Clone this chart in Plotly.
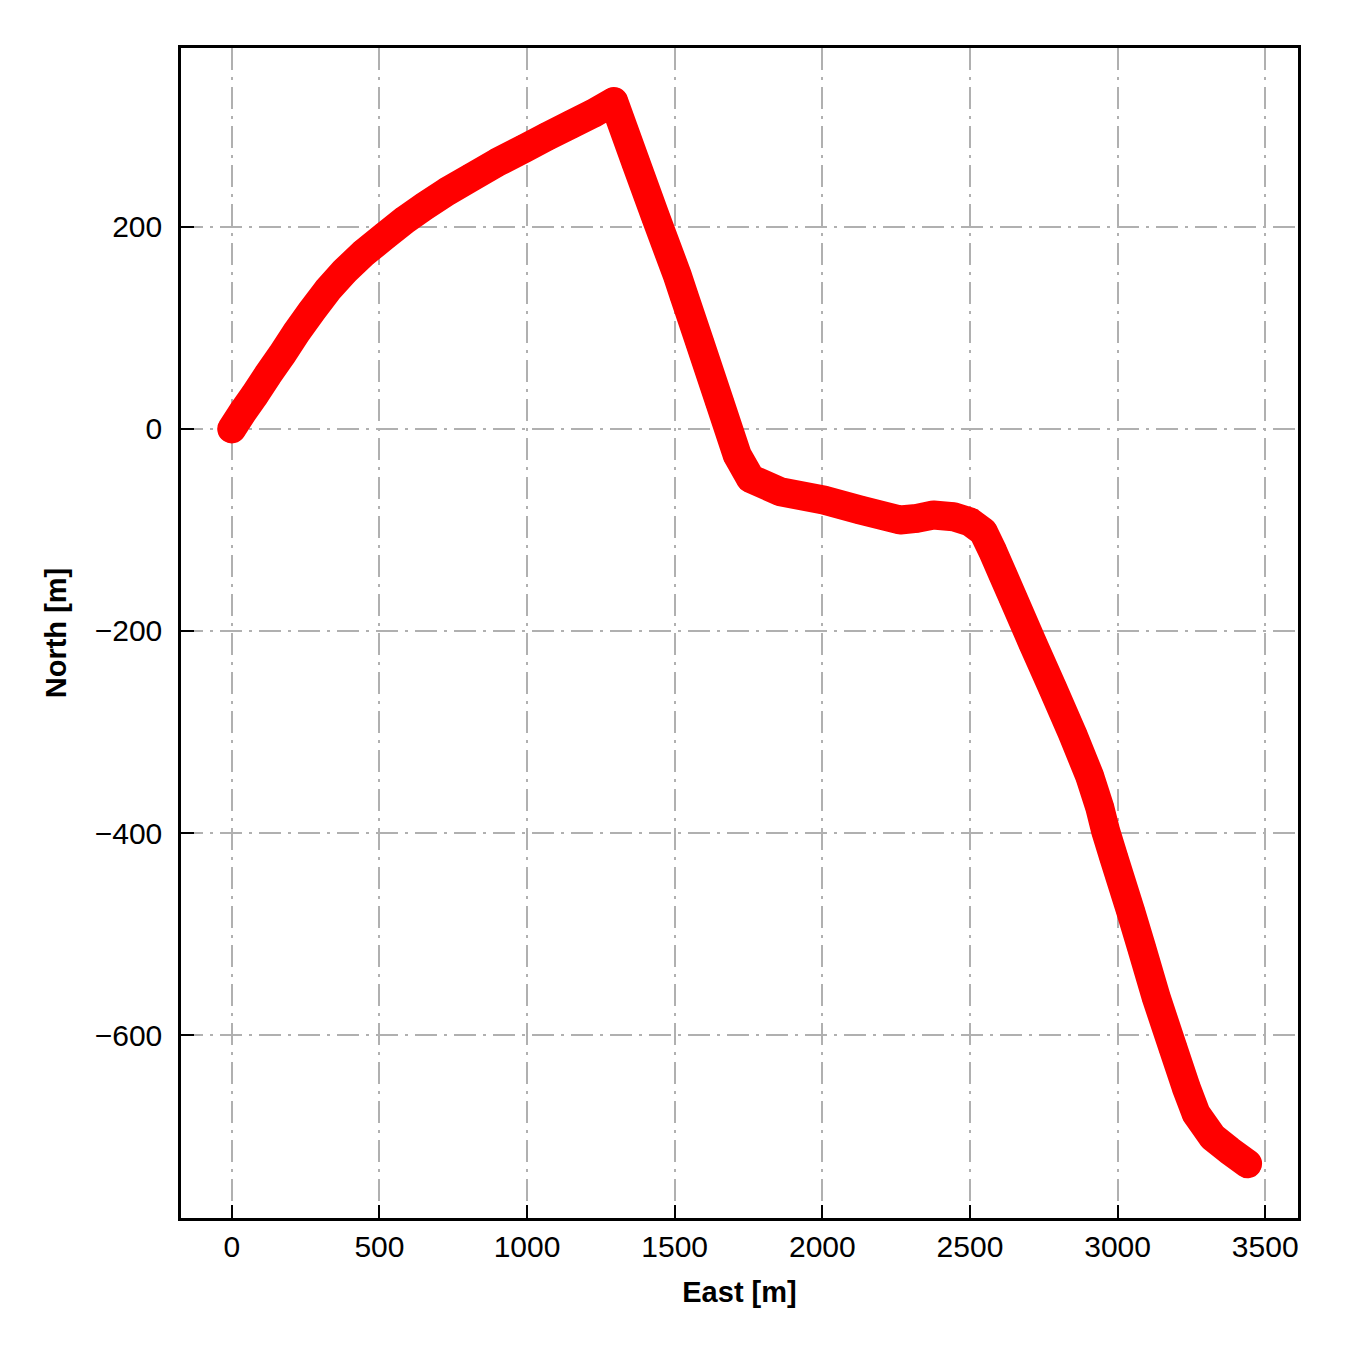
import plotly.graph_objects as go

east = [0, 37.2, 77.7, 121.6, 168.9, 219.6, 270.3, 324.3, 381.8, 445.9, 516.9,
        584.5, 652, 729.7, 810.8, 898.6, 989.9, 1067.6, 1148.6, 1223, 1293.9,
        1368.2, 1435.8, 1509, 1531.4, 1584.5, 1652, 1711.8, 1756.8, 1858.1,
        2004.4, 2128.4, 2263.5, 2319.9, 2376, 2443.6, 2500, 2545, 2577.7, 2611.5,
        2645.3, 2712.8, 2780.4, 2848.0, 2905.4, 2939.2, 2959.5, 2986.5, 3043.9,
        3081.1, 3130.7, 3186.8, 3232.1, 3265.9, 3321.9, 3378.4, 3440.2]
north = [0, 16.8, 33.6, 53.3, 73.1, 95.8, 116.5, 137.3, 156, 173.8, 190.6,
         206.4, 220.2, 235.1, 248.9, 263.7, 277.5, 289.4, 301.2, 312.1, 324,
         263.7, 209.4, 151.8, 132, 85.9, 26.7, -26, -49.1, -62.2,
         -70.4, -80.3, -90.2, -88.6, -85.2, -86.9, -91.9, -101.7, -121.5, -144.2,
         -166.9, -212.3, -256.8, -302.2, -343.7, -374.3, -398.0, -423.7, -477.0,
         -513.3, -562.7, -612, -651.6, -677.8, -700.9, -714.1, -727.2]

x_ticks = [0, 500, 1000, 1500, 2000, 2500, 3000, 3500]
y_ticks = [-600, -400, -200, 0, 200]

FONT = "Liberation Sans, Arial, sans-serif"
GRID = "#b0b0b0"

fig = go.Figure()
fig.add_trace(go.Scatter(
    x=east, y=north, mode="lines+markers",
    line=dict(color="#ff0000", width=29, simplify=False),
    marker=dict(color="#ff0000", size=28, line=dict(width=0)),
    showlegend=False,
))

axis_common = dict(
    showline=True, linecolor="black", linewidth=2.5, mirror=True,
    ticks="inside", ticklen=13, tickwidth=2, tickcolor="black",
    showgrid=True, gridcolor=GRID, gridwidth=2, griddash="22px,7px,3px,7px",
    zeroline=False,
    tickfont=dict(family=FONT, size=30, color="black"),
)

fig.update_xaxes(
    range=[-172, 3611], tickvals=x_ticks, ticktext=[str(v) for v in x_ticks],
    title=dict(text="<b>East [m]</b>", font=dict(family=FONT, size=29, color="black"), standoff=20),
    **axis_common,
)
fig.update_yaxes(
    range=[-781, 377], tickvals=y_ticks,
    ticktext=[("\u2212" + str(-v)) if v < 0 else str(v) for v in y_ticks],
    ticklabelstandoff=10,
    title=dict(text="<b>North [m]</b>", font=dict(family=FONT, size=29, color="black"), standoff=20),
    **axis_common,
)

fig.update_layout(
    width=1350, height=1350,
    margin=dict(l=173, r=60, t=40, b=140, autoexpand=False),
    plot_bgcolor="white", paper_bgcolor="white",
    font=dict(family=FONT, color="black"),
)

round_joins = (
    "var s=document.createElement('style');"
    "s.textContent='.js-line{stroke-linejoin:round !important;stroke-linecap:round !important;}';"
    "document.head.appendChild(s);"
)
fig.write_html("out.html", post_script=round_joins)
